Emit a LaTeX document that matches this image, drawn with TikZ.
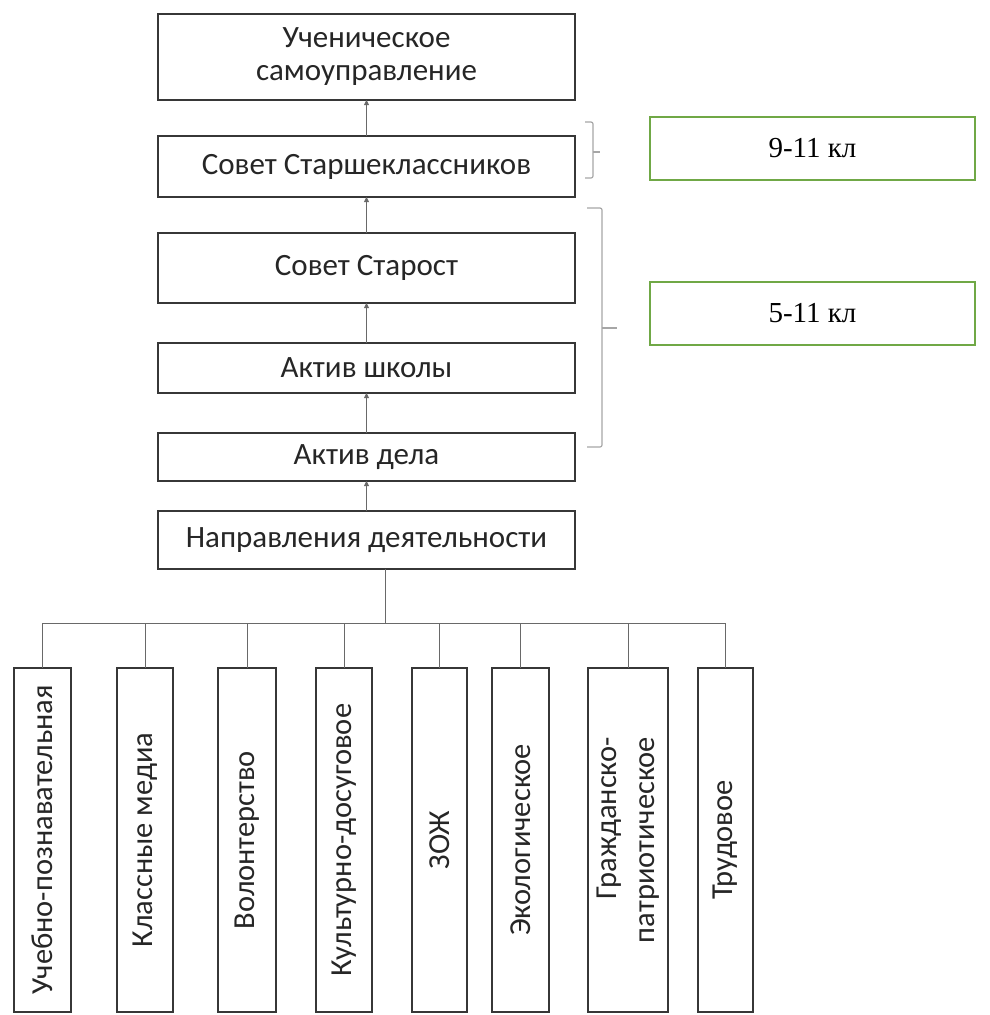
\documentclass[tikz,border=0pt]{standalone}
\usepackage{fontspec}
\setmainfont{Carlito}
\newfontfamily\serifRM{Liberation Serif}
\usetikzlibrary{arrows.meta}
\definecolor{boxline}{RGB}{55,55,55}
\definecolor{conn}{RGB}{105,105,105}
\definecolor{grn}{RGB}{112,168,70}
\begin{document}
\begin{tikzpicture}[x=1pt,y=-1pt,
  hbox/.style={draw=boxline, line width=1.6pt, minimum width=417pt, inner sep=0pt, outer sep=0pt, align=center, font=\fontsize{31}{33}\selectfont, text=black!85},
  vbox/.style={draw=boxline, line width=1.6pt, minimum height=344pt, inner sep=0pt, outer sep=0pt, font=\fontsize{30.5}{38}\selectfont, text=black!85},
  gbox/.style={draw=grn, line width=2pt, minimum width=325pt, minimum height=63pt, inner sep=0pt, outer sep=0pt, font=\serifRM\fontsize{29}{32}\selectfont},
  link/.style={draw=conn, line width=0.9pt},
  up/.style={link, -{Triangle[length=5pt,width=5pt]}},
  brk/.style={draw=gray!70, line width=1.2pt, rounded corners=2pt}
]
\useasboundingbox (0,0) rectangle (990,1015);
\node[hbox, minimum height=86pt] (u) at (366.5,57) {Ученическое\\самоуправление};
\node[hbox, minimum height=61pt] (ss) at (366.5,166.5) {Совет Старшеклассников};
\node[hbox, minimum height=70pt] (so) at (366.5,268) {Совет Старост};
\node[hbox, minimum height=50pt] (as) at (366.5,368) {Актив школы};
\node[hbox, minimum height=48pt] (ad) at (366.5,457) {Актив дела};
\node[hbox, minimum height=58pt] (nd) at (366.5,540) {Направления деятельности};

\draw[up] (ss.north) -- (u.south);
\draw[up] (so.north) -- (ss.south);
\draw[up] (as.north) -- (so.south);
\draw[up] (ad.north) -- (as.south);
\draw[up] (nd.north) -- (ad.south);

\node[gbox] (g1) at (812.5,148.5) {9-11 кл};
\node[gbox] (g2) at (812.5,313.5) {5-11 кл};

\draw[brk] (585,122) -- (593,122) -- (593,178) -- (585,178);
\draw[brk] (593,152) -- (600,152);
\draw[brk] (587,208) -- (602,208) -- (602,447) -- (587,447);
\draw[brk] (602,328) -- (617,328);

\node[vbox, minimum width=57pt] (v1) at (42.5,840) {\rotatebox{90}{Учебно-познавательная}};
\node[vbox, minimum width=56pt] (v2) at (145,840) {\rotatebox{90}{Классные медиа}};
\node[vbox, minimum width=58pt] (v3) at (247,840) {\rotatebox{90}{Волонтерство}};
\node[vbox, minimum width=56pt] (v4) at (344,840) {\rotatebox{90}{Культурно-досуговое}};
\node[vbox, minimum width=55pt] (v5) at (439.5,840) {\rotatebox{90}{ЗОЖ}};
\node[vbox, minimum width=57pt] (v6) at (520.5,840) {\rotatebox{90}{Экологическое}};
\node[vbox, minimum width=80pt] (v7) at (628,840) {\rotatebox{90}{\begin{tabular}{@{}r@{}}Гражданско-\\патриотическое\end{tabular}}};
\node[vbox, minimum width=55pt] (v8) at (725.5,840) {\rotatebox{90}{Трудовое}};

\coordinate (tr) at (385,623);
\draw[link] (nd.south -| tr) -- (tr);
\draw[link] (v1.north |- tr) -- (v8.north |- tr);
\foreach \v in {v1,v2,v3,v4,v5,v6,v7,v8}{
  \draw[link] (\v.north |- tr) -- (\v.north);
}
\end{tikzpicture}
\end{document}
